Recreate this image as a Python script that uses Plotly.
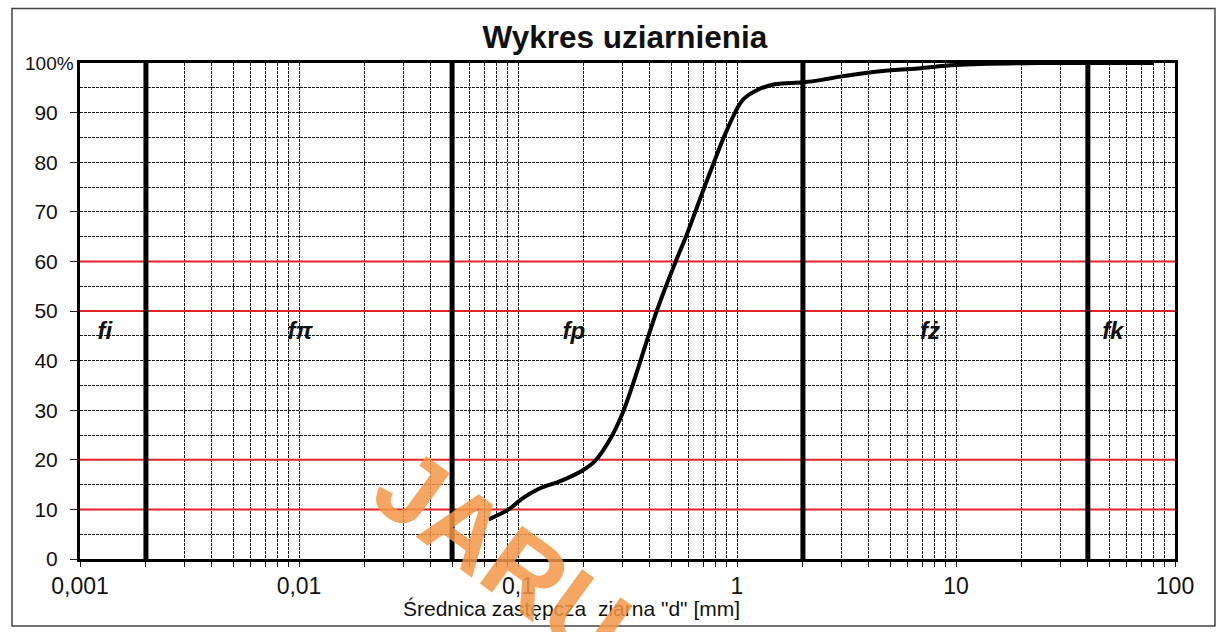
import plotly.graph_objects as go

# ---- data ----
diameter_mm = [0.0735, 0.0907, 0.104, 0.124, 0.158, 0.196, 0.225, 0.262, 0.299, 0.331,
               0.43, 0.525, 0.585, 0.645, 0.71, 0.785, 0.87, 0.98, 1.07, 1.26, 1.49,
               2.0, 2.44, 2.9, 4.4, 6.7, 10, 25, 40, 80]
passing_pct = [8.0, 10.0, 12.1, 14.1, 15.8, 17.8, 19.8, 24.0, 29.2, 34.6,
               50, 60, 65, 70, 75, 80, 85, 90, 92.7, 94.7, 95.7,
               96.1, 96.6, 97.2, 98.3, 98.9, 99.6, 100, 100, 100]

fraction_bounds = [0.002, 0.05, 2, 40]
fraction_labels = ["fi", "fπ", "fp", "fż", "fk"]
fraction_label_x = [0.0013, 0.0101, 0.18, 7.6, 52]
fraction_label_y = 45.6

red_levels = [10, 20, 50, 60]

x_tickvals = [0.001, 0.01, 0.1, 1, 10, 100]
x_ticktext = ["0,001", "0,01", "0,1", "1", "10", "100"]
y_tickvals = [0, 10, 20, 30, 40, 50, 60, 70, 80, 90]
y_ticktext = ["0", "10", "20", "30", "40", "50", "60", "70", "80", "90"]

title_text = "Wykres uziarnienia"
x_title = 'Średnica zastępcza  ziarna "d" [mm]'
watermark = "JARU"

minor_x = [k * 10 ** d for d in range(-3, 2) for k in range(2, 10)]

FONT = "Arial, Liberation Sans, sans-serif"
GRID = "#1a1a1a"
DASH = "3px,1px"

fig = go.Figure()

# red horizontal lines
for lv in red_levels:
    fig.add_trace(go.Scatter(x=[0.001, 100], y=[lv, lv], mode="lines",
                             line=dict(color="#e3242b", width=2), hoverinfo="skip"))

# bold vertical fraction boundaries
for b in fraction_bounds:
    fig.add_trace(go.Scatter(x=[b, b], y=[0, 100], mode="lines",
                             line=dict(color="black", width=5), hoverinfo="skip"))

# grading curve
fig.add_trace(go.Scatter(x=diameter_mm, y=passing_pct, mode="lines",
                         line=dict(color="black", width=4, shape="spline", smoothing=1.0),
                         hoverinfo="skip"))

# fraction labels
fig.add_trace(go.Scatter(x=fraction_label_x, y=[fraction_label_y] * len(fraction_label_x),
                         mode="text", text=fraction_labels,
                         textfont=dict(family=FONT, size=24, color="#111",
                                       style="italic", weight="bold"),
                         hoverinfo="skip"))

fig.update_layout(
    width=1220, height=632,
    margin=dict(l=80, r=45, t=63, b=73),
    paper_bgcolor="white", plot_bgcolor="white",
    showlegend=False,
    title=dict(text="<b>" + title_text + "</b>", x=0.4977, xref="paper", xanchor="center",
               y=1 - 37 / 632, yref="container", yanchor="middle",
               font=dict(family=FONT, size=31.5, color="#111")),
    xaxis=dict(type="log", range=[-3, 2], tickvals=x_tickvals, ticktext=x_ticktext,
               ticks="outside", ticklen=5, tickcolor=GRID, tickwidth=1,
               showline=True, linewidth=3, linecolor="black", mirror=True,
               showgrid=True, gridcolor=GRID, gridwidth=1, griddash=DASH,
               zeroline=False, ticklabelstandoff=-1,
               tickfont=dict(family=FONT, size=23, color="#111"),
               minor=dict(tickvals=minor_x, ticks="outside", ticklen=5, tickcolor=GRID,
                          showgrid=True, gridcolor=GRID, gridwidth=1, griddash=DASH)),
    yaxis=dict(range=[0, 100], tickvals=y_tickvals, ticktext=y_ticktext,
               ticks="outside", ticklen=7, tickcolor=GRID, tickwidth=1,
               showline=True, linewidth=3, linecolor="black", mirror=True,
               showgrid=True, gridcolor=GRID, gridwidth=1, griddash=DASH,
               zeroline=False, ticklabelstandoff=8,
               tickfont=dict(family=FONT, size=21, color="#111"),
               minor=dict(dtick=5, showgrid=True, gridcolor=GRID, gridwidth=1, griddash=DASH)),
)

# "100%" top label
fig.add_annotation(text="100%", xref="paper", yref="paper", x=-0.0037, y=1.0,
                   xanchor="right", yanchor="middle", showarrow=False,
                   font=dict(family=FONT, size=19, color="#111"))

# x-axis title
fig.add_annotation(text=x_title, xref="paper", yref="paper", x=0.449, y=-0.1,
                   xanchor="center", yanchor="middle", showarrow=False,
                   font=dict(family=FONT, size=21, color="#111"))

# watermark
fig.add_annotation(text="<b>" + watermark + "</b>", xref="paper", yref="paper",
                   x=0.3854, y=0.008, xanchor="center", yanchor="middle", showarrow=False,
                   textangle=36, font=dict(family=FONT, size=104, color="rgba(243,150,70,0.85)"))

# outer frame
fig.add_shape(type="rect", xref="paper", yref="paper", x0=-0.0621, x1=1.0365,
              y0=-0.135, y1=1.11, line=dict(color="#444", width=1.5), layer="below")

fig.write_html("out.html", config={"displayModeBar": False},
               post_script="document.body.style.margin='0px';")
